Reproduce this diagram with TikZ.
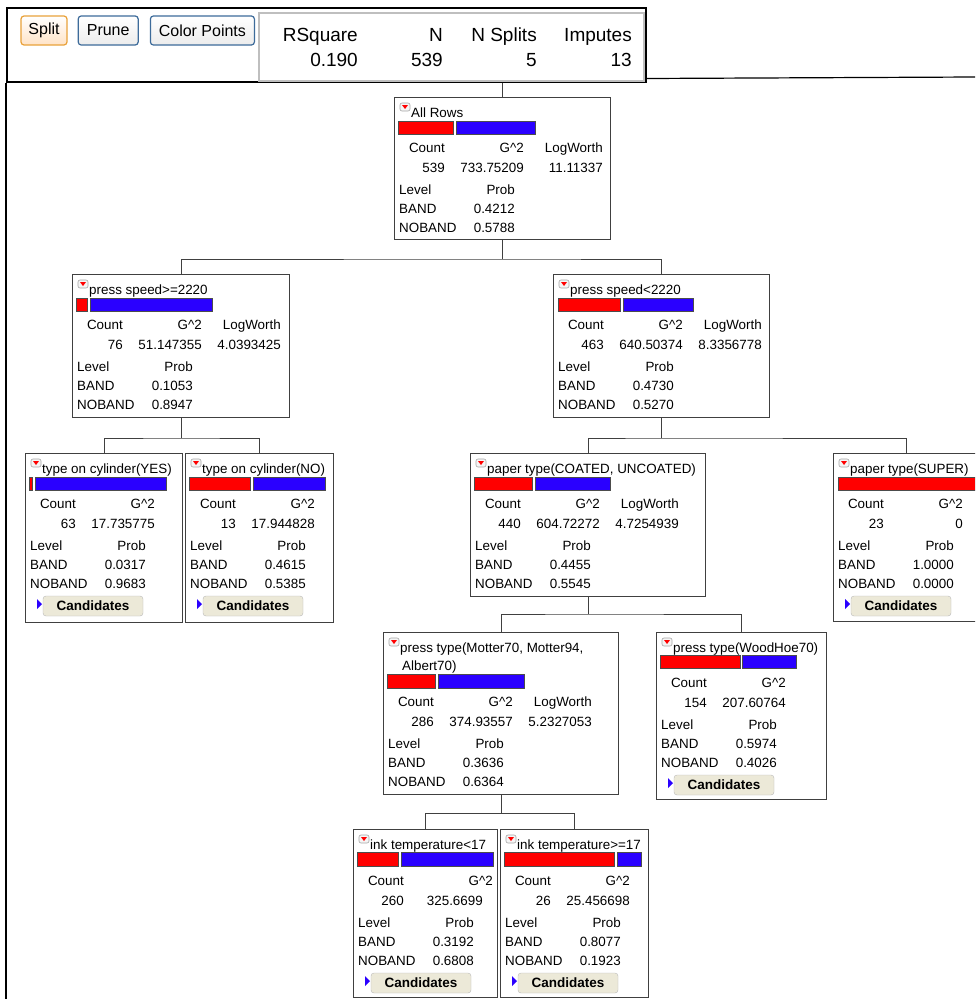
\documentclass[tikz,border=0pt]{standalone}
\usepackage{fontspec}
\setmainfont{Liberation Sans}
\usetikzlibrary{calc}
\usetikzlibrary{positioning}

\definecolor{barred}{HTML}{FF0000}
\definecolor{barblue}{HTML}{2A00FF}
\definecolor{boxline}{HTML}{404040}
\definecolor{candfill}{HTML}{ECE9D8}
\definecolor{btnblue}{HTML}{3D6B9A}
\definecolor{btnorange}{HTML}{E9A23B}

\newcommand{\nodefont}{\fontsize{13.4}{15}\selectfont}

% frame, menu icon and title of one tree box
\newcommand{\treenode}[6]{%
  \node[treebox, minimum width=#4, minimum height=#5] (#1) at (#2,#3) {};
  \draw[menuicon] ($(#1.north west)+(6,6)$) rectangle ($(#1.north west)+(16,14)$);
  \fill[barred] ($(#1.north west)+(8,8)$) -- ($(#1.north west)+(14,8)$) -- ($(#1.north west)+(11,12)$) -- cycle;
  \node[txt, anchor=base west] (#1-title) at ($(#1.north west)+(17,20)$) {#6};
}
% Count and G^2 columns
\newcommand{\countrow}[5][130]{%
  \node[txt, anchor=base east] (#2-cnt) at ($(#2.north west)+(51,#3+5)$) {Count};
  \node[txt, anchor=base east] (#2-g2) at ($(#2.north west)+(#1,#3+5)$) {G\textasciicircum 2};
  \node[txt, anchor=base east] (#2-cntv) at ($(#2.north west)+(51,#3+25)$) {#4};
  \node[txt, anchor=base east] (#2-g2v) at ($(#2.north west)+(130,#3+25)$) {#5};
}
\newcommand{\logworth}[3]{%
  \node[txt, anchor=base east] (#1-lw) at ($(#1.north west)+(209,#2+5)$) {LogWorth};
  \node[txt, anchor=base east] (#1-lwv) at ($(#1.north west)+(209,#2+25)$) {#3};
}
% Level / Prob table
\newcommand{\probrows}[4]{%
  \node[txt, anchor=base west] (#1-lev) at ($(#1.north west)+(5,#2+47)$) {Level};
  \node[txt, anchor=base east] (#1-prob) at ($(#1.north west)+(121,#2+47)$) {Prob};
  \node[txt, anchor=base west] (#1-band) at ($(#1.north west)+(5,#2+66)$) {BAND};
  \node[txt, anchor=base east] (#1-bandv) at ($(#1.north west)+(121,#2+66)$) {#3};
  \node[txt, anchor=base west] (#1-noband) at ($(#1.north west)+(5,#2+85)$) {NOBAND};
  \node[txt, anchor=base east] (#1-nobandv) at ($(#1.north west)+(121,#2+85)$) {#4};
}
\newcommand{\candidates}[2]{%
  \fill[barblue] ($(#1.north west)+(12,#2+96)$) -- ($(#1.north west)+(17,#2+101)$) -- ($(#1.north west)+(12,#2+106)$) -- cycle;
  \node[candbtn] (#1-cand) at ($(#1.north west)+(68,#2+103)$) {Candidates};
}

\begin{document}
\begin{tikzpicture}[x=1pt, y=-1pt,
    txt/.style={inner sep=0pt, font=\nodefont},
    stat/.style={inner sep=0pt, font=\fontsize{19}{22}\selectfont},
    treebox/.style={draw=boxline, line width=1pt, fill=white, anchor=north west, inner sep=0pt},
    menuicon/.style={draw=gray!70, fill=gray!8, rounded corners=2pt, line width=0.6pt},
    redbar/.style={draw=black!70, fill=barred, line width=0.8pt},
    bluebar/.style={draw=black!70, fill=barblue, line width=0.8pt},
    link/.style={draw=boxline, line width=1pt},
    btn/.style={draw=btnblue, line width=1.2pt, rounded corners=3pt, top color=white, bottom color=gray!15,
      minimum height=29pt, inner sep=0pt, font=\fontsize{16}{18}\selectfont},
    candbtn/.style={draw=gray!55, fill=candfill, rounded corners=3pt, minimum width=100pt, minimum height=20pt,
      inner sep=0pt, font=\bfseries\fontsize{13.5}{15}\selectfont}]
  \useasboundingbox (0,0) rectangle (975,999);
  \clip (0,0) rectangle (975,999);
  \fill[white] (0,0) rectangle (975,999);

  % control panel
  \node[draw=black, line width=1.5pt, fill=white, anchor=north west, minimum width=639pt, minimum height=74pt] (panel) at (6,7) {};
  \coordinate (lowleft) at (6,999);
  \coordinate (rightend) at (975,77);
  \draw[black, line width=1.5pt] (panel.south west) -- (lowleft);
  \draw[black, line width=1.2pt] ($(panel.south east)+(0,-4)$) -- (rightend);

  \node[btn, draw=btnorange, bottom color=orange!22, minimum width=46pt] (split) at (44,30.5) {Split};
  \node[btn, minimum width=60pt, right=10pt of split] (prune) {Prune};
  \node[btn, minimum width=104pt, right=11pt of prune] (colorpts) {Color Points};

  \node[draw=gray!50, line width=1.5pt, fill=white, anchor=north west, minimum width=385pt, minimum height=68pt] (stats) at (258,12) {};
  \node[stat, anchor=base east] (rsq) at (358,41) {RSquare};
  \node[stat, anchor=base east] (rsqv) at (358,66) {0.190};
  \node[stat, anchor=base east] (nn) at (443,41) {N};
  \node[stat, anchor=base east] (nnv) at (443,66) {539};
  \node[stat, anchor=base east] (nspl) at (537,41) {N Splits};
  \node[stat, anchor=base east] (nsplv) at (537,66) {5};
  \node[stat, anchor=base east] (imp) at (632,41) {Imputes};
  \node[stat, anchor=base east] (impv) at (632,66) {13};

  % root
  \treenode{root}{394}{97}{216pt}{142pt}{All Rows}
  \draw[redbar] (398,121) rectangle (453,134);
  \draw[bluebar] (456,121) rectangle (535,134);
  \countrow{root}{50}{539}{733.75209}
  \logworth{root}{50}{11.11337}
  \probrows{root}{50}{0.4212}{0.5788}

  % press speed
  \treenode{psh}{72}{274}{217pt}{143pt}{press speed>=2220}
  \draw[redbar] (76,298) rectangle (87,311);
  \draw[bluebar] (90,298) rectangle (212,311);
  \countrow{psh}{50}{76}{51.147355}
  \logworth{psh}{50}{4.0393425}
  \probrows{psh}{50}{0.1053}{0.8947}

  \treenode{psl}{553}{274}{216pt}{143pt}{press speed<2220}
  \draw[redbar] (558,298) rectangle (620,311);
  \draw[bluebar] (623,298) rectangle (693,311);
  \countrow{psl}{50}{463}{640.50374}
  \logworth{psl}{50}{8.3356778}
  \probrows{psl}{50}{0.4730}{0.5270}

  % type on cylinder
  \treenode{yes}{25}{453}{157pt}{169pt}{type on cylinder(YES)}
  \draw[redbar] (29,477) rectangle (32,490);
  \draw[bluebar] (35,477) rectangle (166,490);
  \countrow{yes}{50}{63}{17.735775}
  \probrows{yes}{50}{0.0317}{0.9683}
  \candidates{yes}{50}

  \treenode{no}{185}{453}{148pt}{169pt}{type on cylinder(NO)}
  \draw[redbar] (189,477) rectangle (250,490);
  \draw[bluebar] (253,477) rectangle (325,490);
  \countrow{no}{50}{13}{17.944828}
  \probrows{no}{50}{0.4615}{0.5385}
  \candidates{no}{50}

  % paper type
  \treenode{coat}{470}{453}{235pt}{143pt}{paper type(COATED, UNCOATED)}
  \draw[redbar] (474,477) rectangle (532,490);
  \draw[bluebar] (535,477) rectangle (610,490);
  \countrow{coat}{50}{440}{604.72272}
  \logworth{coat}{50}{4.7254939}
  \probrows{coat}{50}{0.4455}{0.5545}

  \treenode{sup}{833}{453}{146pt}{168pt}{paper type(SUPER)}
  \draw[redbar] (838,477) rectangle (975,490);
  \countrow{sup}{50}{23}{0}
  \probrows{sup}{50}{1.0000}{0.0000}
  \candidates{sup}{50}

  % press type
  \treenode{motter}{383}{632}{235pt}{162pt}{press type(Motter70, Motter94,}
  \node[txt, anchor=base west] (motter-title2) at (402,670) {Albert70)};
  \draw[redbar] (387,674) rectangle (435,688);
  \draw[bluebar] (438,674) rectangle (524,688);
  \countrow{motter}{69}{286}{374.93557}
  \logworth{motter}{69}{5.2327053}
  \probrows{motter}{69}{0.3636}{0.6364}

  \treenode{wood}{656}{632}{170pt}{167pt}{press type(WoodHoe70)}
  \draw[redbar] (660,655) rectangle (740,668);
  \draw[bluebar] (742,655) rectangle (796,668);
  \countrow{wood}{50}{154}{207.60764}
  \probrows{wood}{50}{0.5974}{0.4026}
  \candidates{wood}{50}

  % ink temperature
  \treenode{inkl}{353}{829}{144pt}{168pt}{ink temperature<17}
  \draw[redbar] (357,852) rectangle (398,866);
  \draw[bluebar] (401,852) rectangle (493,866);
  \countrow[140]{inkl}{51}{260}{325.6699}
  \probrows{inkl}{51}{0.3192}{0.6808}
  \candidates{inkl}{51}

  \treenode{inkh}{500}{829}{148pt}{168pt}{ink temperature>=17}
  \draw[redbar] (504,852) rectangle (614,866);
  \draw[bluebar] (617,852) rectangle (641,866);
  \countrow{inkh}{51}{26}{25.456698}
  \probrows{inkh}{51}{0.8077}{0.1923}
  \candidates{inkh}{51}

  % connectors
  \coordinate (top) at (panel.south -| root.north);
  \draw[link] (top) -- (root.north);
  \coordinate (j1) at ($(root.south)+(0,19)$);
  \draw[link] (root.south) -- (j1);
  \draw[link] (psh.north) |- (j1) -| (psl.north);
  \coordinate (j2) at ($(psh.south)+(0,20)$);
  \draw[link] (psh.south) -- (j2);
  \draw[link] (yes.north) |- (j2) -| (no.north);
  \coordinate (j3) at ($(psl.south)+(0,20)$);
  \draw[link] (psl.south) -- (j3);
  \draw[link] (coat.north) |- (j3) -| (sup.north);
  \coordinate (j4) at ($(coat.south)+(0,17)$);
  \draw[link] (coat.south) -- (j4);
  \draw[link] (motter.north) |- (j4) -| (wood.north);
  \coordinate (j5) at ($(motter.south)+(0,18)$);
  \draw[link] (motter.south) -- (j5);
  \draw[link] (inkl.north) |- (j5) -| (inkh.north);
\end{tikzpicture}
\end{document}
